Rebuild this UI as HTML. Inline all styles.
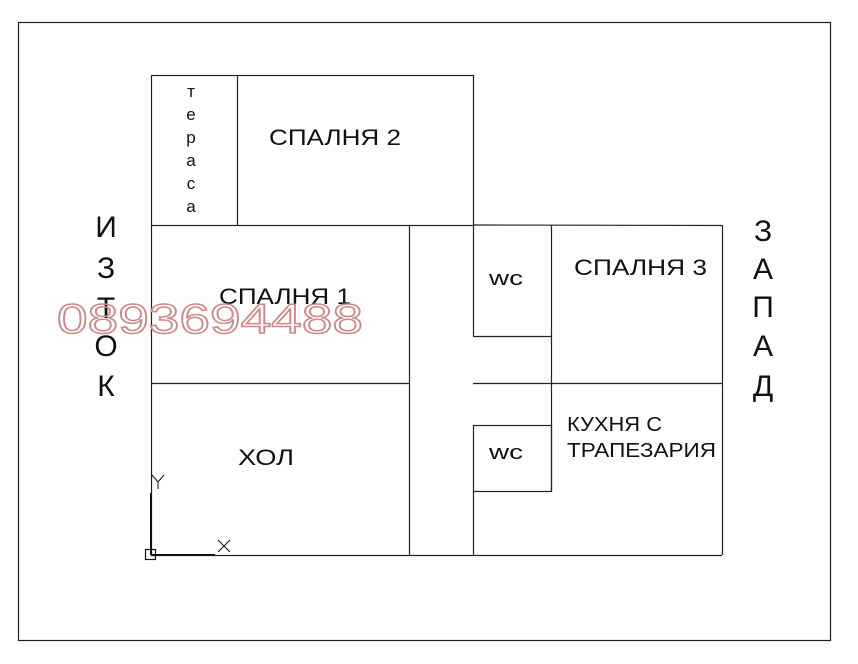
<!DOCTYPE html>
<html><head><style>body{margin:0;background:#fff}svg{display:block}text{font-family:"Liberation Sans",Arial,sans-serif}</style></head><body>
<svg width="858" height="664" xmlns="http://www.w3.org/2000/svg">
<rect x="0" y="0" width="858" height="664" fill="#fff"/>
<g stroke="#222" stroke-width="1.2" fill="none">
<rect x="18.5" y="22.5" width="812" height="618"/>
<rect x="151.5" y="75.5" width="322" height="150"/>
<line x1="237.5" y1="75" x2="237.5" y2="225"/>
<line x1="151.5" y1="225" x2="151.5" y2="555"/>
<line x1="151" y1="555.5" x2="722" y2="555.5"/>
<line x1="409.5" y1="225" x2="409.5" y2="555"/>
<line x1="473.5" y1="225" x2="722" y2="225.5"/>
<line x1="722.5" y1="225" x2="722.5" y2="555"/>
<line x1="151" y1="383.5" x2="409" y2="383.5"/>
<line x1="473" y1="383.5" x2="722" y2="383.5"/>
<line x1="473.5" y1="225" x2="473.5" y2="336"/>
<line x1="473" y1="336.5" x2="551" y2="336.5"/>
<line x1="551.5" y1="225" x2="551.5" y2="491"/>
<rect x="473.5" y="425.5" width="78" height="66"/>
<line x1="473.5" y1="491" x2="473.5" y2="555"/>
</g>
<g stroke="#111" fill="none">
<line x1="151" y1="493" x2="151" y2="555" stroke-width="2"/>
<line x1="151" y1="555" x2="215" y2="555" stroke-width="2"/>
<rect x="145.5" y="549.5" width="10" height="10" stroke-width="1.2"/>
<path d="M218 540 L230 552 M230 540 L218 552" stroke-width="1"/>
<path d="M152 475 L158 482 L164 475 M158 482 L158 489" stroke-width="1"/>
</g>
<g fill="#111" font-size="22">
<text x="269" y="145" textLength="132" lengthAdjust="spacingAndGlyphs">СПАЛНЯ 2</text>
<text x="219" y="304" textLength="132" lengthAdjust="spacingAndGlyphs">СПАЛНЯ 1</text>
<text x="238" y="465" textLength="56" lengthAdjust="spacingAndGlyphs">ХОЛ</text>
<text x="574" y="275" textLength="133" lengthAdjust="spacingAndGlyphs">СПАЛНЯ 3</text>
<text x="567" y="431" font-size="20" textLength="95" lengthAdjust="spacingAndGlyphs">КУХНЯ С</text>
<text x="567" y="457" font-size="20" textLength="149" lengthAdjust="spacingAndGlyphs">ТРАПЕЗАРИЯ</text>
<text x="489" y="285" font-size="20" textLength="34" lengthAdjust="spacingAndGlyphs">wc</text>
<text x="489" y="459" font-size="20" textLength="34" lengthAdjust="spacingAndGlyphs">wc</text>
</g>
<g fill="#111" font-size="17" text-anchor="middle">
<text x="191" y="97">т</text><text x="191" y="120">е</text><text x="191" y="143">р</text><text x="191" y="166">а</text><text x="191" y="189">с</text><text x="191" y="212">а</text>
</g>
<g fill="#111" font-size="30" text-anchor="middle">
<text x="106" y="237">И</text><text x="106" y="278">З</text><text x="106" y="318">Т</text><text x="106" y="356">О</text><text x="106" y="396">К</text>
<text x="763" y="241">З</text><text x="763" y="279">А</text><text x="763" y="317">П</text><text x="763" y="356">А</text><text x="763" y="396">Д</text>
</g>
<text x="57" y="333" font-size="42" fill="none" stroke="#c98a8a" stroke-width="1.5" textLength="306" lengthAdjust="spacingAndGlyphs">0893694488</text>
</svg>
</body></html>
